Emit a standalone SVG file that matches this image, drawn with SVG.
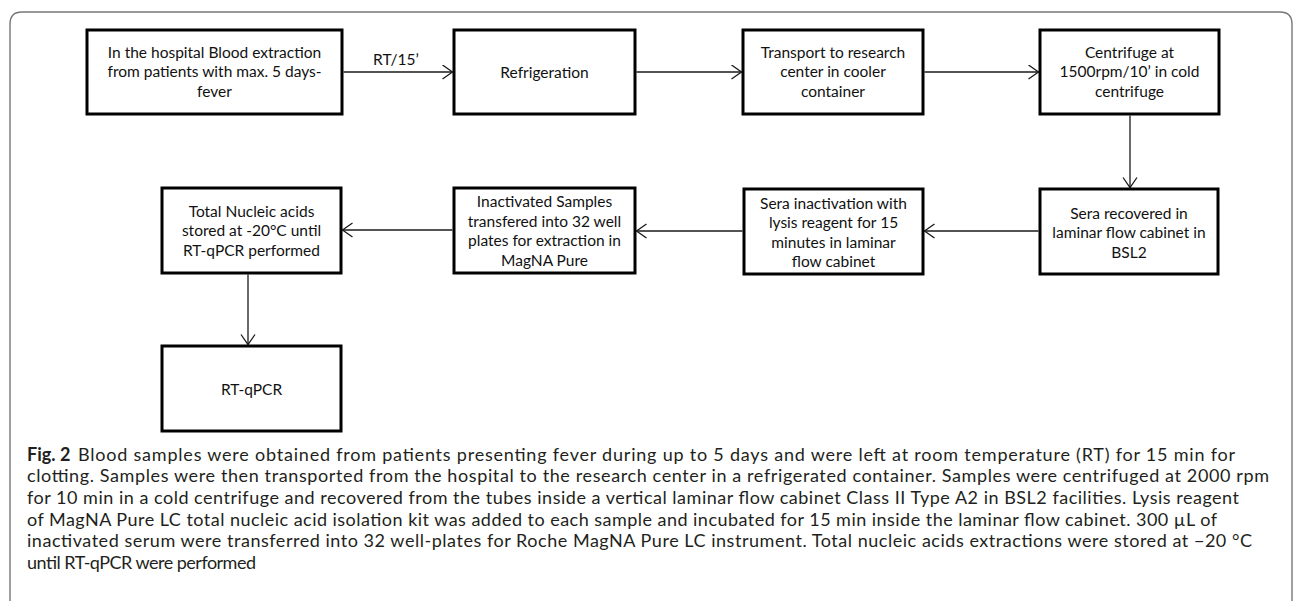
<svg xmlns="http://www.w3.org/2000/svg" width="1293" height="601" viewBox="0 0 1293 601">
<defs>
<marker id="ah" markerUnits="userSpaceOnUse" markerWidth="14" markerHeight="16" refX="11" refY="7.5" orient="auto" viewBox="0 0 14 16">
<path d="M1,0.5 L11,7.5 L1,14.5" fill="none" stroke="#1a1a1a" stroke-width="1.3"/>
</marker>
<style>
.box{fill:#fff;stroke:#000;stroke-width:3}
.bt{font-family:Lato,"Liberation Sans",sans-serif;font-size:15.5px;fill:#111;text-anchor:middle}
.cn{fill:none;stroke:#1a1a1a;stroke-width:1.3;marker-end:url(#ah)}
.cap{font-family:Lato,"Liberation Sans",sans-serif;font-size:18px;fill:#231f20}
.frame{fill:none;stroke:#777;stroke-width:1.4}
</style>
</defs>
<rect width="1293" height="601" fill="#fff"/>
<path class="frame" d="M10,610 V24 Q10,12 22,12 H1280 Q1292,12 1292,24 V610"/>
<g id="connectors">
<line class="cn" x1="343.5" y1="72" x2="452.5" y2="72"/>
<text class="bt" x="396" y="65">RT/15’</text>
<line class="cn" x1="636.5" y1="72" x2="741.5" y2="72"/>
<line class="cn" x1="924.5" y1="72" x2="1038.5" y2="72"/>
<line class="cn" x1="1130" y1="115.5" x2="1130" y2="187.5"/>
<line class="cn" x1="1038.5" y1="231" x2="924.5" y2="231"/>
<line class="cn" x1="742.5" y1="231" x2="636.5" y2="231"/>
<line class="cn" x1="452.5" y1="230" x2="342.5" y2="230"/>
<line class="cn" x1="248" y1="274.5" x2="248" y2="344.5"/>
</g>
<g id="n1"><rect class="box" x="87" y="30" width="255" height="84"/>
<text class="bt" x="214.5" y="57.5">In the hospital Blood extraction</text>
<text class="bt" x="214.5" y="77">from patients with max. 5 days-</text>
<text class="bt" x="214.5" y="96.5">fever</text></g>
<g id="n2"><rect class="box" x="454" y="30" width="181" height="84"/>
<text class="bt" x="544.5" y="77.5">Refrigeration</text></g>
<g id="n3"><rect class="box" x="743" y="30" width="180" height="84"/>
<text class="bt" x="833" y="57.5">Transport to research</text>
<text class="bt" x="833" y="77">center in cooler</text>
<text class="bt" x="833" y="96.5">container</text></g>
<g id="n4"><rect class="box" x="1040" y="30" width="179" height="84"/>
<text class="bt" x="1129.5" y="57.5">Centrifuge at</text>
<text class="bt" x="1129.5" y="77">1500rpm/10’ in cold</text>
<text class="bt" x="1129.5" y="96.5">centrifuge</text></g>
<g id="n5"><rect class="box" x="1040" y="189" width="178" height="85"/>
<text class="bt" x="1129" y="218.5">Sera recovered in</text>
<text class="bt" x="1129" y="238">laminar flow cabinet in</text>
<text class="bt" x="1129" y="257.5">BSL2</text></g>
<g id="n6"><rect class="box" x="744" y="189" width="179" height="85"/>
<text class="bt" x="833.5" y="208.5">Sera inactivation with</text>
<text class="bt" x="833.5" y="228">lysis reagent for 15</text>
<text class="bt" x="833.5" y="247.5">minutes in laminar</text>
<text class="bt" x="833.5" y="267">flow cabinet</text></g>
<g id="n7"><rect class="box" x="454" y="188" width="181" height="85"/>
<text class="bt" x="544.5" y="207">Inactivated Samples</text>
<text class="bt" x="544.5" y="226.5">transfered into 32 well</text>
<text class="bt" x="544.5" y="246">plates for extraction in</text>
<text class="bt" x="544.5" y="265.5">MagNA Pure</text></g>
<g id="n8"><rect class="box" x="162" y="188" width="179" height="85"/>
<text class="bt" x="251.5" y="216.5">Total Nucleic acids</text>
<text class="bt" x="251.5" y="236">stored at -20°C until</text>
<text class="bt" x="251.5" y="255.5">RT-qPCR performed</text></g>
<g id="n9"><rect class="box" x="162" y="346" width="179" height="85"/>
<text class="bt" x="251.5" y="394.5">RT-qPCR</text></g>
<g id="caption">
<text class="cap" x="27" y="460.5" font-weight="bold">Fig. 2</text>
<text class="cap" x="78" y="460.5" textLength="1157" lengthAdjust="spacing">Blood samples were obtained from patients presenting fever during up to 5 days and were left at room temperature (RT) for 15 min for</text>
<text class="cap" x="27" y="482" textLength="1242" lengthAdjust="spacing">clotting. Samples were then transported from the hospital to the research center in a refrigerated container. Samples were centrifuged at 2000 rpm</text>
<text class="cap" x="27" y="504" textLength="1212" lengthAdjust="spacing">for 10 min in a cold centrifuge and recovered from the tubes inside a vertical laminar flow cabinet Class II Type A2 in BSL2 facilities. Lysis reagent</text>
<text class="cap" x="27" y="525.5" textLength="1190" lengthAdjust="spacing">of MagNA Pure LC total nucleic acid isolation kit was added to each sample and incubated for 15 min inside the laminar flow cabinet. 300 µL of</text>
<text class="cap" x="27" y="547" textLength="1225" lengthAdjust="spacing">inactivated serum were transferred into 32 well-plates for Roche MagNA Pure LC instrument. Total nucleic acids extractions were stored at −20 °C</text>
<text class="cap" x="27" y="569" textLength="229" lengthAdjust="spacing">until RT-qPCR were performed</text>
</g>
</svg>
